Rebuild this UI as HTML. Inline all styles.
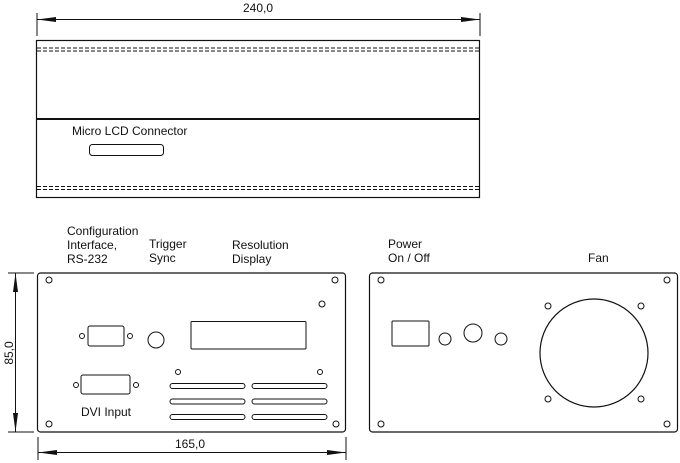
<!DOCTYPE html>
<html><head><meta charset="utf-8"><style>
html,body{margin:0;padding:0;background:#fff;}
svg{display:block;}
text{font-family:"Liberation Sans",sans-serif;font-size:12px;fill:#111;}
</style></head><body>
<svg width="680" height="463" viewBox="0 0 680 463" xmlns="http://www.w3.org/2000/svg">
<g stroke="#111" fill="none" stroke-width="1">
<line x1="37" y1="13" x2="37" y2="36"/>
<line x1="480" y1="13" x2="480" y2="36"/>
<line x1="37" y1="19.5" x2="480" y2="19.5"/>
<rect x="36.5" y="40.5" width="443" height="157" stroke-width="1.2"/>
<line x1="37" y1="119" x2="480" y2="119" stroke-width="2"/>
<g stroke-dasharray="4,2">
<line x1="37" y1="48" x2="480" y2="48"/>
<line x1="37" y1="51" x2="480" y2="51"/>
<line x1="37" y1="186.5" x2="480" y2="186.5"/>
<line x1="37" y1="189.5" x2="480" y2="189.5"/>
</g>
<rect x="89.5" y="144.5" width="74" height="11" rx="3"/>
<rect x="37.5" y="273" width="308" height="159" rx="3" stroke-width="1.2"/>
<circle cx="49" cy="280" r="3"/><circle cx="335" cy="280" r="3"/>
<circle cx="49" cy="424" r="3"/><circle cx="336" cy="424" r="3"/>
<circle cx="322" cy="304" r="3"/>
<rect x="88" y="326" width="36" height="20" rx="2"/>
<circle cx="82" cy="336" r="2.5"/><circle cx="130" cy="336" r="2.5"/>
<circle cx="156" cy="340" r="8"/>
<rect x="191" y="321.5" width="115" height="27.5" rx="1"/>
<circle cx="178" cy="372" r="2.5"/><circle cx="320" cy="372" r="2.5"/>
<rect x="81" y="375" width="49" height="19" rx="2"/>
<circle cx="76" cy="385" r="2.5"/><circle cx="136" cy="385" r="2.5"/>
<rect x="170" y="383.5" width="75" height="5" rx="2.5"/>
<rect x="252" y="383.5" width="75" height="5" rx="2.5"/>
<rect x="170" y="399" width="75" height="5" rx="2.5"/>
<rect x="252" y="399" width="75" height="5" rx="2.5"/>
<rect x="170" y="414.5" width="75" height="5" rx="2.5"/>
<rect x="252" y="414.5" width="75" height="5" rx="2.5"/>
<line x1="8" y1="273" x2="34" y2="273"/>
<line x1="8" y1="432" x2="34" y2="432"/>
<line x1="15.5" y1="273" x2="15.5" y2="432"/>
<line x1="38" y1="437" x2="38" y2="460"/>
<line x1="346" y1="437" x2="346" y2="460"/>
<line x1="38" y1="452.5" x2="346" y2="452.5"/>
<rect x="369.5" y="273" width="308" height="159" rx="3" stroke-width="1.2"/>
<circle cx="381" cy="280" r="3"/><circle cx="667" cy="280" r="3"/>
<circle cx="381" cy="424" r="3"/><circle cx="667" cy="424" r="3"/>
<rect x="392" y="321" width="37" height="25" rx="1"/>
<circle cx="445" cy="339" r="6"/><circle cx="473" cy="333" r="9"/><circle cx="501" cy="339" r="6"/>
<circle cx="594" cy="353" r="54" stroke-width="1.2"/>
<circle cx="548" cy="306" r="3"/><circle cx="641" cy="306" r="3"/>
<circle cx="548" cy="399" r="3"/><circle cx="641" cy="399" r="3"/>
</g>
<g fill="#111">
<polygon points="37,19.5 56,17 56,22"/>
<polygon points="480,19.5 461,17 461,22"/>
<polygon points="15.5,273 13,292 18,292"/>
<polygon points="15.5,432 13,413 18,413"/>
<polygon points="38,452.5 57,450 57,455"/>
<polygon points="346,452.5 327,450 327,455"/>
</g>
<text x="258" y="12" text-anchor="middle">240,0</text>
<text x="72" y="135">Micro LCD Connector</text>
<text x="67" y="235">Configuration</text>
<text x="67" y="249">Interface,</text>
<text x="67" y="263">RS-232</text>
<text x="149" y="248">Trigger</text>
<text x="149" y="262">Sync</text>
<text x="232" y="249">Resolution</text>
<text x="232" y="263">Display</text>
<text x="106" y="416" text-anchor="middle">DVI Input</text>
<text x="190" y="448" text-anchor="middle">165,0</text>
<text transform="translate(13,353) rotate(-90)" text-anchor="middle">85,0</text>
<text x="388" y="248">Power</text>
<text x="388" y="262">On / Off</text>
<text x="588" y="262">Fan</text>
</svg>
</body></html>
